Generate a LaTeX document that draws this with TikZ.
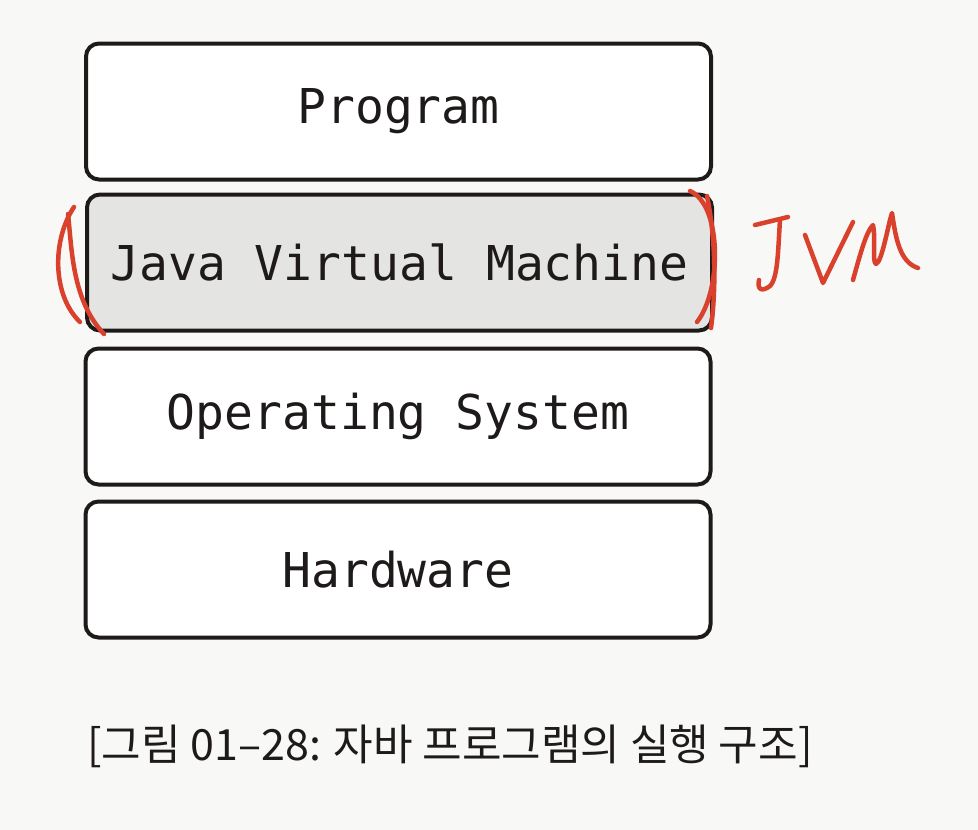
\documentclass[tikz,border=0pt]{standalone}
\usepackage{fontspec}
\newfontfamily\monofont{DejaVu Sans Mono}
\newfontfamily\krfont{Noto Sans CJK KR}
\definecolor{pen}{HTML}{D9412C}
\definecolor{paper}{HTML}{F8F8F7}
\definecolor{jvmfill}{HTML}{E4E4E3}
\definecolor{ink}{HTML}{1E1A1A}
\begin{document}
\begin{tikzpicture}[x=1pt,y=-1pt,
  layer/.style={draw=ink, line width=4pt, rounded corners=13pt, minimum width=625pt, minimum height=136pt, inner sep=0pt, font=\monofont\fontsize{48}{56}\selectfont, text=ink},
  stroke/.style={draw=pen, line width=4.5pt, line cap=round, line join=round}]
\fill[paper] (0,0) rectangle (978,830);
\useasboundingbox (0,0) rectangle (978,830);
\node[layer, fill=white] (prog) at (398.5,111.5) {Program};
\node[layer, fill=jvmfill] (jvm) at (399.5,262.5) {Java Virtual Machine};
\node[layer, fill=white] (os) at (398,416.5) {Operating System};
\node[layer, fill=white] (hw) at (398,569.5) {Hardware};
\node[font=\krfont\fontsize{43}{50}\selectfont, text=ink, inner sep=0pt] (cap) at (450,746) {[그림 01–28: 자바 프로그램의 실행 구조]};
% red parentheses
\draw[stroke] (74,207) .. controls (52,240) and (52,295) .. (80,322);
\draw[stroke] (68,214) .. controls (72,250) and (72,300) .. (104,334);
\draw[stroke] (690,191) .. controls (722,205) and (722,290) .. (697,322);
\draw[stroke] (707,196) .. controls (716,240) and (716,290) .. (711,328);
% JVM handwriting
\draw[stroke] (755,225) -- (788,217);
\draw[stroke] (780,220) .. controls (778,250) and (778,278) .. (770,286) .. controls (762,292) and (757,290) .. (759,280);
\draw[stroke] (805,235) -- (823,283) -- (853,222);
\draw[stroke] (853,280) .. controls (860,255) and (866,232) .. (873,225) .. controls (876,240) and (872,262) .. (876,264) .. controls (882,262) and (888,225) .. (892,213) .. controls (896,240) and (900,262) .. (918,268);
\end{tikzpicture}
\end{document}
